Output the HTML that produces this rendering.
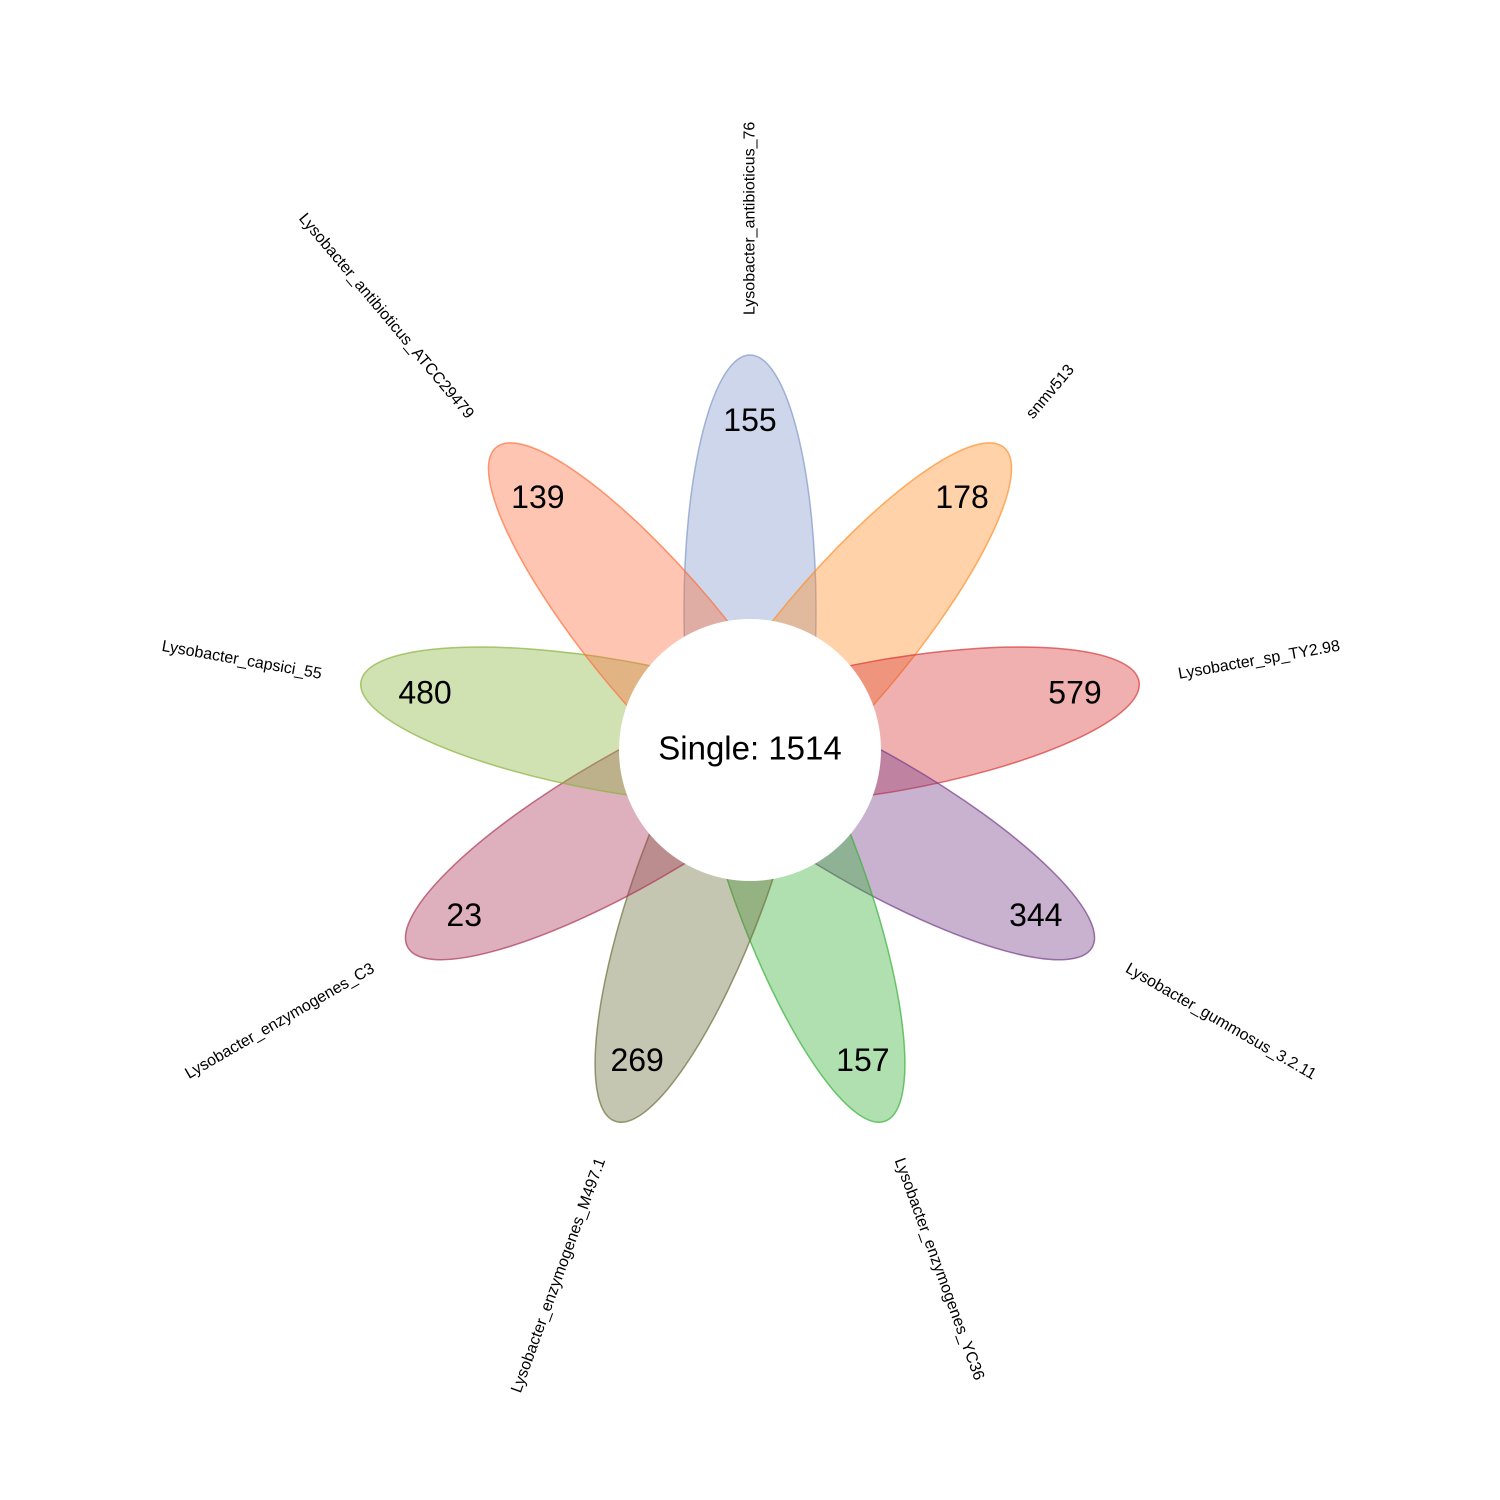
<!DOCTYPE html>
<html><head><meta charset="utf-8"><style>body{margin:0;background:#fff}svg{display:block}</style></head>
<body>
<svg id="chart" width="1500" height="1500" xmlns="http://www.w3.org/2000/svg"></svg>
<script>
const names = ["Lysobacter_antibioticus_76","snmv513","Lysobacter_sp_TY2.98","Lysobacter_gummosus_3.2.11","Lysobacter_enzymogenes_YC36","Lysobacter_enzymogenes_M497.1","Lysobacter_enzymogenes_C3","Lysobacter_capsici_55","Lysobacter_antibioticus_ATCC29479"];
const counts = [155,178,579,344,157,269,23,480,139];
const core = 1514;
const colors = ["#8298ca","#ff8e2a","#d93939","#763f8a","#39b139","#6e703e","#ac3757","#89b43e","#fc703e"];
const svg = document.getElementById('chart');
const NS = "http://www.w3.org/2000/svg";
const cx=750, cy=750;
function mk(t,a){const e=document.createElementNS(NS,t);for(const k in a)e.setAttribute(k,a[k]);return e;}
const n = names.length;
names.forEach((nm,i)=>{
  const ang = 90 - i*360/n;
  const r = ang*Math.PI/180;
  const ux=Math.cos(r), uy=-Math.sin(r);
  const pc=140;
  const el = mk('ellipse',{cx:cx+ux*pc, cy:cy+uy*pc, rx:255, ry:66, transform:`rotate(${-ang} ${cx+ux*pc} ${cy+uy*pc})`, fill:colors[i], 'fill-opacity':0.4, stroke:colors[i], 'stroke-opacity':0.7, 'stroke-width':1.5});
  
  
  svg.appendChild(el);
});
names.forEach((nm,i)=>{
  const ang = 90 - i*360/n;
  const r = ang*Math.PI/180;
  const ux=Math.cos(r), uy=-Math.sin(r);
  const t = mk('text',{x:cx+ux*330, y:cy+uy*330, 'text-anchor':'middle','dominant-baseline':'central','font-size':32,'font-family':'Liberation Sans, sans-serif',fill:'#000'});
  t.textContent = counts[i];
  
  
  svg.appendChild(t);
  let a=((ang%360)+360)%360;
  const right = (a<=90 || a>270);
  const lx=cx+ux*435, ly=cy+uy*435;
  const rot = right ? -ang : 180-ang;
  const l = mk('text',{x:lx,y:ly,'text-anchor':right?'start':'end','dominant-baseline':'central','font-size':16,'font-family':'Liberation Sans, sans-serif',fill:'#000',transform:`rotate(${rot} ${lx} ${ly})`});
  l.textContent = nm;
  
  
  svg.appendChild(l);
});
const c = mk('circle',{cx:cx,cy:cy,r:131,fill:'#fff'});


svg.appendChild(c);
const ct = mk('text',{x:cx,y:cy-2,'text-anchor':'middle','dominant-baseline':'central','font-size':33,'font-family':'Liberation Sans, sans-serif',fill:'#000'});
ct.textContent = 'Single: '+core;


svg.appendChild(ct);
</script>
</body></html>
